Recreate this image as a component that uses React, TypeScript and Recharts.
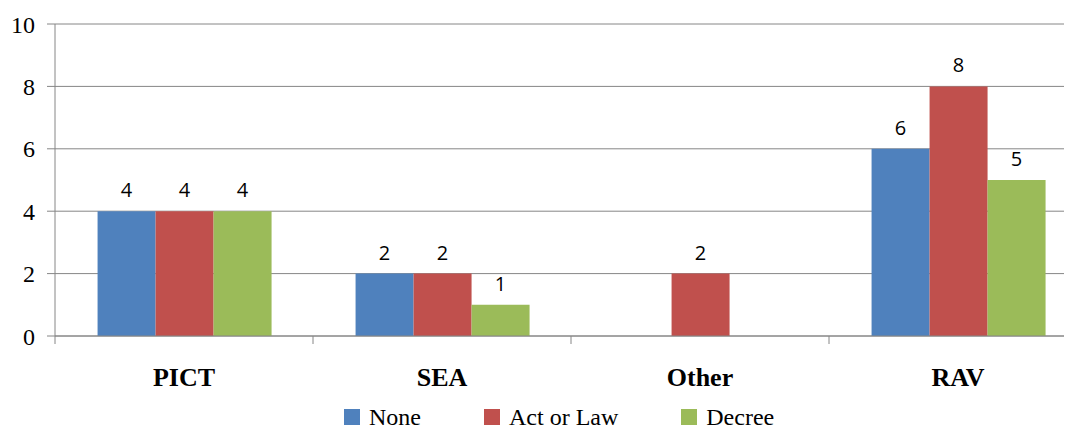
import { BarChart, Bar, XAxis, YAxis, CartesianGrid, Legend, LabelList } from "recharts";

const regions = ["PICT", "SEA", "Other", "RAV"];
const noneCounts = [4, 2, 0, 6];
const actOrLawCounts = [4, 2, 2, 8];
const decreeCounts = [4, 1, 0, 5];
const yTicks = [0, 2, 4, 6, 8, 10];

const series = [
  { key: "none", name: "None", color: "#4F81BD" },
  { key: "act", name: "Act or Law", color: "#C0504D" },
  { key: "decree", name: "Decree", color: "#9BBB59" },
];

const data = regions.map((region, i) => ({
  region,
  none: noneCounts[i],
  act: actOrLawCounts[i],
  decree: decreeCounts[i],
}));

const serif = '"Liberation Serif", "Times New Roman", serif';
const gridColor = "#868686";

// category label plus small tick marks on the band edges (Excel style)
function CategoryTick(props: any) {
  const { x, y, payload, width, visibleTicksCount, index } = props;
  const half = width / visibleTicksCount / 2;
  const isLast = index === visibleTicksCount - 1;
  return (
    <g>
      <line x1={x - half} x2={x - half} y1={y} y2={y + 8} stroke={gridColor} />
      {isLast && <line x1={x + half} x2={x + half} y1={y} y2={y + 8} stroke={gridColor} />}
      <text x={x} y={y + 32} dy="0.71em" textAnchor="middle" fill="#000" fontSize={26} fontWeight={700} fontFamily={serif}>
        {payload.value}
      </text>
    </g>
  );
}

function ChartLegend() {
  return (
    <div style={{ display: "flex", height: 24, alignItems: "center", marginLeft: 344, gap: 63 }}>
      {series.map((s) => (
        <div key={s.key} style={{ display: "flex", alignItems: "center", gap: 9, height: 24 }}>
          <span style={{ display: "inline-block", width: 16, height: 16, background: s.color }} />
          <span style={{ fontFamily: serif, fontSize: 24, lineHeight: "24px", color: "#000" }}>{s.name}</span>
        </div>
      ))}
    </div>
  );
}

export default function App() {
  return (
    <div style={{ margin: -8, width: 1072, height: 435, overflow: "hidden", background: "#fff", fontFamily: serif }}>
      <BarChart
        width={1100}
        height={435}
        data={data}
        margin={{ top: 24, right: 13, left: 0, bottom: 6 }}
        barCategoryGap="16.5%"
        barGap={0}
      >
        <CartesianGrid vertical={false} stroke={gridColor} />
        <XAxis
          dataKey="region"
          height={69}
          axisLine={{ stroke: gridColor }}
          tickLine={false}
          tickSize={0}
          tickMargin={0}
          interval={0}
          tick={<CategoryTick />}
        />
        <YAxis
          width={55}
          domain={[0, 10]}
          ticks={yTicks}
          tickSize={8}
          tickMargin={12}
          axisLine={{ stroke: gridColor }}
          tickLine={{ stroke: gridColor }}
          tick={{ fill: "#000", fontSize: 24, fontFamily: serif }}
        />
        <Legend verticalAlign="bottom" content={<ChartLegend />} />
        {series.map((s) => (
          <Bar key={s.key} dataKey={s.key} name={s.name} fill={s.color} isAnimationActive={false}>
            <LabelList
              dataKey={s.key}
              position="top"
              offset={14}
              formatter={(v: any) => (v ? v : "")}
              fill="#000"
              fontSize={20}
              fontFamily='"Open Sans", sans-serif'
            />
          </Bar>
        ))}
      </BarChart>
    </div>
  );
}
